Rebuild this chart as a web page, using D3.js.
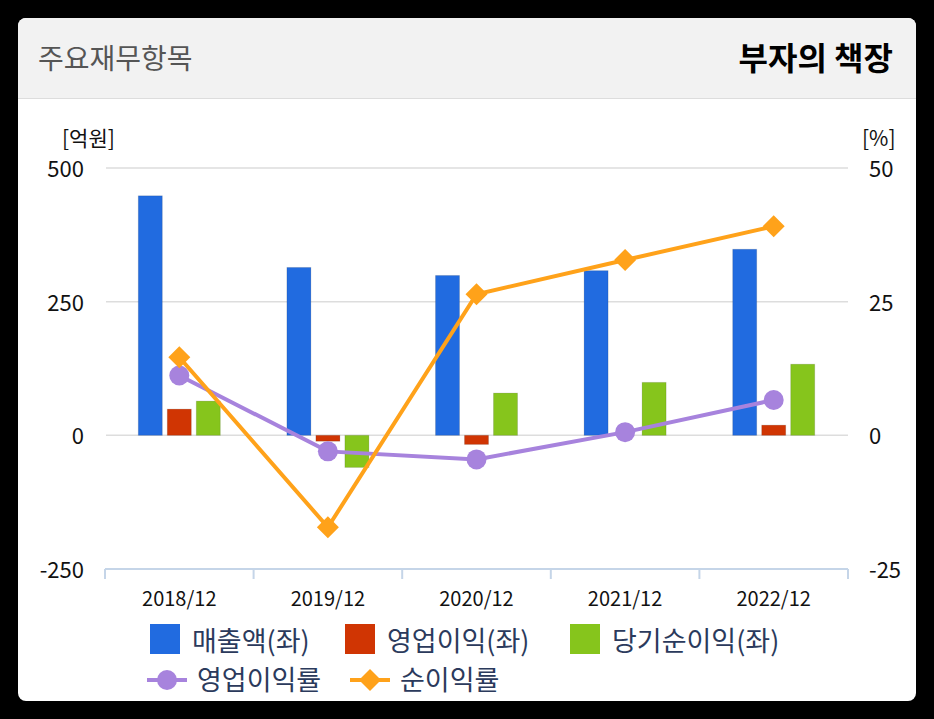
<!DOCTYPE html>
<html><head><meta charset="utf-8">
<script src="https://cdn.jsdelivr.net/npm/d3@7"></script>
<style>body{margin:0;background:#000;}svg{display:block;font-family:"Noto Sans CJK KR","Noto Sans",sans-serif;}</style>
</head><body><svg id="c" width="934" height="719"></svg>
<script>
const categories=["2018/12","2019/12","2020/12","2021/12","2022/12"];
const sales=[448,314,299,308,348];
const opIncome=[49,-11,-17,0,19];
const netIncome=[64,-60,79,99,133];
const opMargin=[11.2,-3.0,-4.5,0.6,6.6];
const netMargin=[14.6,-17.2,26.4,32.8,39.1];
const leftTicks=[-250,0,250,500];
const rightTicks=[-25,0,25,50];
const barSeries=[{name:"매출액(좌)",color:"#216be0",vals:sales},{name:"영업이익(좌)",color:"#d03503",vals:opIncome},{name:"당기순이익(좌)",color:"#86c51c",vals:netIncome}];

const svg=d3.select("#c");
svg.append("rect").attr("x",18).attr("y",18).attr("width",898).attr("height",683).attr("rx",8).attr("fill","#fff");
svg.append("path").attr("d","M18,98 V26 a8,8 0 0 1 8,-8 H908 a8,8 0 0 1 8,8 V98 Z").attr("fill","#f2f2f2");
svg.append("line").attr("x1",18).attr("x2",916).attr("y1",98.5).attr("y2",98.5).attr("stroke","#ddd");
svg.append("text").attr("x",38).attr("y",69).attr("font-size",28).attr("fill","#555").text("주요재무항목");
svg.append("text").attr("x",893).attr("y",70).attr("text-anchor","end").attr("font-size",32).attr("font-weight","bold").attr("fill","#000").text("부자의 책장");

const x=d3.scaleBand().domain(categories).range([105,848]);
const y=d3.scaleLinear().domain([-250,500]).range([569,168]);
const y2=d3.scaleLinear().domain([-25,50]).range([569,168]);

svg.append("g").selectAll("line").data([0,250,500]).join("line")
 .attr("x1",106).attr("x2",848).attr("y1",d=>y(d)).attr("y2",d=>y(d)).attr("stroke","#ddd").attr("stroke-width",1.5);
svg.append("g").selectAll("text").data(leftTicks).join("text").attr("x",84).attr("y",d=>y(d)+9).attr("text-anchor","end").attr("font-size",22).attr("fill","#111").text(d=>d);
svg.append("g").selectAll("text").data(rightTicks).join("text").attr("x",869).attr("y",d=>y2(d)+9).attr("font-size",22).attr("fill","#111").text(d=>d);
svg.append("text").attr("x",62).attr("y",146).attr("font-size",21).attr("fill","#111").text("[억원]");
svg.append("text").attr("x",862).attr("y",146).attr("font-size",21).attr("fill","#111").text("[%]");
const ax=svg.append("g").attr("transform","translate(0,569)");
ax.append("line").attr("x1",105).attr("x2",848).attr("stroke","#c5d5e8").attr("stroke-width",2);
ax.selectAll("line.t").data(d3.range(6)).join("line").attr("class","t").attr("x1",d=>105+d*x.step()).attr("x2",d=>105+d*x.step()).attr("y1",0).attr("y2",10).attr("stroke","#c5d5e8").attr("stroke-width",2);
ax.selectAll("text").data(categories).join("text").attr("x",d=>x(d)+x.bandwidth()/2).attr("y",37).attr("text-anchor","middle").attr("font-size",20).attr("fill","#111").text(d=>d);

const bw=24, offs=[-29,0,29];
barSeries.forEach((s,i)=>{
 svg.append("g").selectAll("rect").data(s.vals).join("rect")
  .attr("x",(d,j)=>x(categories[j])+x.bandwidth()/2+offs[i]-bw/2).attr("width",bw)
  .attr("y",d=>y(Math.max(0,d))).attr("height",d=>Math.abs(y(d)-y(0)))
  .attr("fill",s.color).attr("stroke","rgba(0,0,0,0.12)").attr("stroke-width",1);
});
const cx=(d,j)=>x(categories[j])+x.bandwidth()/2;
const line=d3.line().x((d,j)=>cx(d,j)).y(d=>y2(d));
const diamond="M0,-11L11,0L0,11L-11,0Z";
svg.append("path").datum(opMargin).attr("d",line).attr("fill","none").attr("stroke","#a783dd").attr("stroke-width",4);
svg.append("g").selectAll("circle").data(opMargin).join("circle").attr("cx",cx).attr("cy",d=>y2(d)).attr("r",10).attr("fill","#a783dd");
svg.append("path").datum(netMargin).attr("d",line).attr("fill","none").attr("stroke","#ffa21a").attr("stroke-width",4);
svg.append("g").selectAll("path.d").data(netMargin).join("path").attr("class","d").attr("d",diamond).attr("transform",(d,j)=>`translate(${cx(d,j)},${y2(d)})`).attr("fill","#ffa21a");

const lg=svg.append("g").attr("font-size",27);
const leg1=[[150,0],[345,1],[570,2]];
leg1.forEach(([lx,i])=>{
 lg.append("rect").attr("x",lx).attr("y",624).attr("width",30).attr("height",30).attr("fill",barSeries[i].color);
 lg.append("text").attr("x",lx+42).attr("y",651).attr("fill","#2b3a5c").text(barSeries[i].name);
});
lg.append("line").attr("x1",147).attr("x2",187).attr("y1",680).attr("y2",680).attr("stroke","#a783dd").attr("stroke-width",4);
lg.append("circle").attr("cx",167).attr("cy",680).attr("r",10).attr("fill","#a783dd");
lg.append("text").attr("x",197).attr("y",690).attr("fill","#2b3a5c").text("영업이익률");
lg.append("line").attr("x1",350).attr("x2",390).attr("y1",680).attr("y2",680).attr("stroke","#ffa21a").attr("stroke-width",4);
lg.append("path").attr("d",diamond).attr("transform","translate(370,680)").attr("fill","#ffa21a");
lg.append("text").attr("x",400).attr("y",690).attr("fill","#2b3a5c").text("순이익률");
</script></body></html>
